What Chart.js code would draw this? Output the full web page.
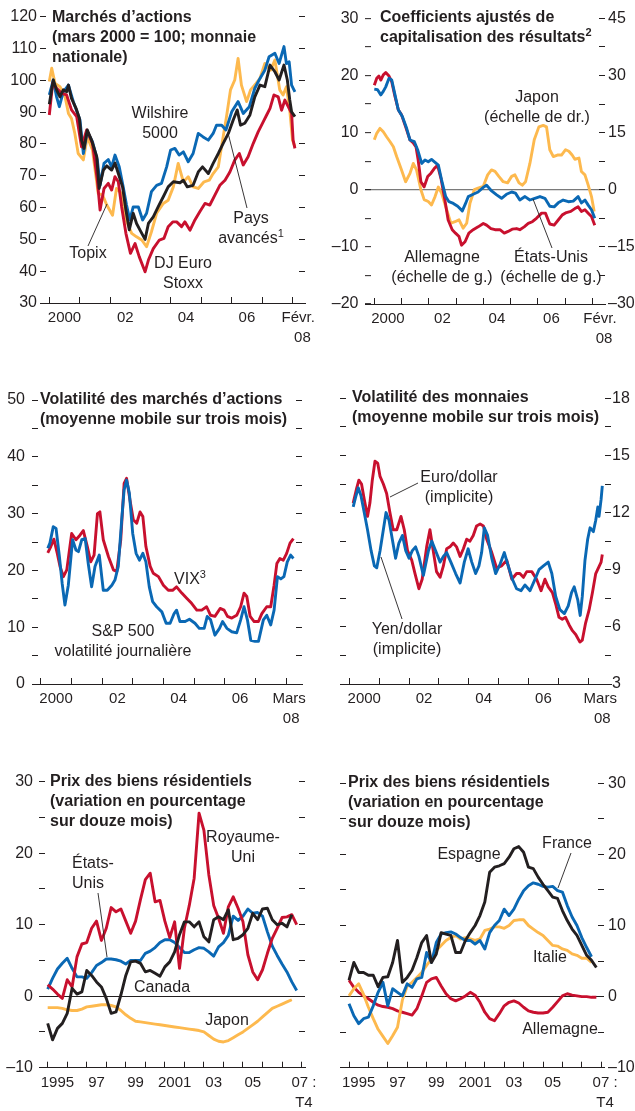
<!DOCTYPE html>
<html>
<head>
<meta charset="utf-8">
<script src="https://cdn.jsdelivr.net/npm/chart.js@4.4.1/dist/chart.umd.min.js"></script>
<style>
body{margin:0;background:#fff;width:635px;height:1111px;position:relative;overflow:hidden;font-family:"Liberation Sans",Arial,sans-serif;color:#231f20}
canvas{position:absolute}
.t{position:absolute;font-weight:bold;font-size:16px;line-height:20px;white-space:nowrap;z-index:2}
.l{position:absolute;font-size:16px;line-height:20px;white-space:nowrap;text-align:center;transform:translate(-50%,-50%);z-index:2}
.l.g{text-align:left;transform:translate(0,-50%)}
sup{font-size:11px;line-height:0;vertical-align:6px}
svg{position:absolute;left:0;top:0;z-index:1}
</style>
</head>
<body>
<canvas id="c1" width="317" height="345" style="left:0;top:0"></canvas>
<canvas id="c2" width="318" height="345" style="left:317px;top:0"></canvas>
<canvas id="c3" width="317" height="350" style="left:0;top:375px"></canvas>
<canvas id="c4" width="318" height="350" style="left:317px;top:375px"></canvas>
<canvas id="c5" width="317" height="346" style="left:0;top:765px"></canvas>
<canvas id="c6" width="318" height="346" style="left:317px;top:765px"></canvas>

<div class="t" style="left:52px;top:7px">Marchés d’actions<br>(mars 2000 = 100; monnaie<br>nationale)</div>
<div class="t" style="left:380px;top:6.5px">Coefficients ajustés de<br>capitalisation des résultats<sup>2</sup></div>
<div class="t" style="left:40px;top:389px">Volatilité des marchés d’actions<br>(moyenne mobile sur trois mois)</div>
<div class="t" style="left:352px;top:386.5px">Volatilité des monnaies<br>(moyenne mobile sur trois mois)</div>
<div class="t" style="left:50px;top:771px">Prix des biens résidentiels<br>(variation en pourcentage<br>sur douze mois)</div>
<div class="t" style="left:348px;top:771.5px">Prix des biens résidentiels<br>(variation en pourcentage<br>sur douze mois)</div>

<div class="l" style="left:160px;top:123px">Wilshire<br>5000</div>
<div class="l" style="left:88px;top:253px">Topix</div>
<div class="l" style="left:183px;top:273px">DJ Euro<br>Stoxx</div>
<div class="l" style="left:251px;top:228px">Pays<br>avancés<sup>1</sup></div>
<div class="l" style="left:537px;top:107px">Japon<br>(échelle de dr.)</div>
<div class="l" style="left:442px;top:267px">Allemagne<br>(échelle de g.)</div>
<div class="l" style="left:551px;top:267px">États-Unis<br>(échelle de g.)</div>
<div class="l" style="left:190px;top:579px">VIX<sup>3</sup></div>
<div class="l" style="left:123px;top:641px">S&amp;P 500<br>volatilité journalière</div>
<div class="l" style="left:459px;top:487px">Euro/dollar<br>(implicite)</div>
<div class="l" style="left:407px;top:639px">Yen/dollar<br>(implicite)</div>
<div class="l" style="left:243px;top:847px">Royaume-<br>Uni</div>
<div class="l g" style="left:72px;top:873px">États-<br>Unis</div>
<div class="l" style="left:162px;top:987px">Canada</div>
<div class="l" style="left:227px;top:1020px">Japon</div>
<div class="l" style="left:469px;top:854px">Espagne</div>
<div class="l" style="left:567px;top:843px">France</div>
<div class="l" style="left:550px;top:957px">Italie</div>
<div class="l" style="left:560px;top:1029px">Allemagne</div>

<svg width="635" height="1111">
<g stroke="#231f20" stroke-width="0.9">
<line x1="88" y1="246" x2="107" y2="204"/>
<line x1="247" y1="208" x2="228" y2="133"/>
<line x1="552" y1="248" x2="533" y2="199"/>
<line x1="418" y1="483" x2="390" y2="497"/>
<line x1="402" y1="619" x2="381" y2="557"/>
<line x1="98" y1="893" x2="107" y2="957"/>
<line x1="571" y1="853" x2="558" y2="888"/>
</g>
</svg>

<script>
// ---- Marchés d'actions (mars 2000 = 100), [année, indice]
const paysAvances = [[2000.00,92.5],[2000.13,100.1],[2000.24,97],[2000.35,94.8],[2000.46,97],[2000.57,96.4],[2000.63,98.5],[2000.73,94.3],[2000.88,91.2],[2000.99,88],[2001.06,81.2],[2001.14,78.6],[2001.25,84.4],[2001.39,81.2],[2001.56,76],[2001.64,66],[2001.78,71.8],[2001.89,73.1],[2002.05,71.8],[2002.16,74],[2002.27,70.7],[2002.41,66.5],[2002.52,59.2],[2002.63,53],[2002.76,58.2],[2002.87,55],[2002.98,53],[2003.15,50],[2003.26,55],[2003.42,57.1],[2003.58,60.2],[2003.75,63.4],[2003.91,66.5],[2004.08,68.1],[2004.30,67.8],[2004.41,68.6],[2004.54,66.5],[2004.73,67],[2004.90,71.2],[2005.04,72.8],[2005.23,70.7],[2005.39,73.9],[2005.56,77],[2005.72,80.2],[2005.89,83.3],[2006.05,87.5],[2006.18,90.7],[2006.29,85.9],[2006.43,86.5],[2006.60,89.1],[2006.76,94.8],[2006.93,98.5],[2007.09,98],[2007.26,104.8],[2007.42,102.7],[2007.56,100.1],[2007.72,104.8],[2007.83,100.1],[2007.91,93.8],[2007.97,90.1],[2008.08,88.6]];
const wilshire = [[2000.00,95.4],[2000.13,100.1],[2000.24,94.8],[2000.33,91.7],[2000.46,96.4],[2000.63,98.5],[2000.79,93.3],[2001.01,87.5],[2001.12,77],[2001.25,83.9],[2001.42,80.7],[2001.58,75],[2001.67,67],[2001.80,73.9],[2001.94,75.1],[2002.05,72.8],[2002.16,76.5],[2002.30,72.8],[2002.43,66.5],[2002.54,60.8],[2002.65,56.1],[2002.76,60.2],[2002.93,60.2],[2003.07,56.1],[2003.20,58.2],[2003.36,65],[2003.53,67],[2003.69,67.6],[2003.86,72.8],[2003.99,78.1],[2004.13,78.6],[2004.27,76.5],[2004.41,77.5],[2004.57,74.4],[2004.73,77],[2004.90,83.3],[2005.06,82.2],[2005.23,81.2],[2005.39,83.3],[2005.50,85.9],[2005.67,85.9],[2005.81,84.4],[2006.00,90.1],[2006.21,93.3],[2006.38,89.6],[2006.58,91.7],[2006.76,97.5],[2006.93,100.6],[2007.09,103.2],[2007.23,107.4],[2007.42,108.5],[2007.56,105.3],[2007.72,110.6],[2007.80,105.3],[2007.89,105.8],[2007.97,98.5],[2008.08,96.4]];
const topix = [[2000.00,99.6],[2000.08,103.8],[2000.19,99],[2000.35,98],[2000.52,94.8],[2000.63,89.6],[2000.73,88],[2000.84,83.3],[2000.95,77],[2001.12,75],[2001.25,82.3],[2001.42,78.1],[2001.61,64.4],[2001.75,64],[2001.89,60.8],[2002.08,57.6],[2002.21,66],[2002.38,64.4],[2002.52,56.1],[2002.71,51.9],[2002.87,50.8],[2003.04,49.8],[2003.20,47.7],[2003.36,52.4],[2003.53,58.2],[2003.75,61.3],[2003.91,62.3],[2004.08,66.5],[2004.24,73.9],[2004.41,68.1],[2004.57,69.7],[2004.73,66.5],[2004.90,66],[2005.09,68.1],[2005.26,68.6],[2005.39,70.7],[2005.56,72.8],[2005.70,81.2],[2005.83,88.6],[2005.96,97],[2006.10,100.1],[2006.21,106.9],[2006.32,98.5],[2006.49,93.3],[2006.62,97],[2006.80,99],[2006.93,100.6],[2007.09,105.3],[2007.28,103.2],[2007.42,106.4],[2007.58,97],[2007.69,95.4],[2007.80,98],[2007.91,90.6],[2008.00,81.2],[2008.08,79.1]];
const euroStoxx = [[2000.00,89.1],[2000.11,99],[2000.24,97.5],[2000.41,95.9],[2000.57,95.4],[2000.73,90.7],[2000.90,88.6],[2001.06,79.1],[2001.23,84.4],[2001.42,80.2],[2001.58,68.6],[2001.67,59.2],[2001.80,66],[2001.94,67.6],[2002.05,65.5],[2002.16,69.7],[2002.27,68.1],[2002.38,60.2],[2002.52,51.9],[2002.67,45.6],[2002.82,48.7],[2002.96,44.5],[2003.15,39.8],[2003.26,43.5],[2003.42,47.1],[2003.62,49.8],[2003.77,50.3],[2003.91,54],[2004.06,55.5],[2004.19,55.5],[2004.35,54],[2004.46,55.5],[2004.63,52.9],[2004.79,56.1],[2004.95,58.7],[2005.12,61.3],[2005.28,60.8],[2005.45,64],[2005.61,67],[2005.78,68.6],[2005.94,71.2],[2006.10,74.9],[2006.25,77],[2006.38,73.4],[2006.54,76],[2006.71,80.2],[2006.87,83.8],[2007.04,87],[2007.15,89.1],[2007.26,91.2],[2007.39,95.4],[2007.53,94.8],[2007.64,90.6],[2007.75,93.8],[2007.86,91.7],[2007.97,89.6],[2008.02,81.2],[2008.08,78.6]];

// ---- Coefficients ajustés de capitalisation des résultats
const perAllemagne = [[2000.00,18.3],[2000.09,19.5],[2000.17,19.9],[2000.24,19.2],[2000.33,20.1],[2000.42,20.5],[2000.54,19.9],[2000.64,18.9],[2000.76,16.3],[2000.88,14],[2001.00,13.1],[2001.15,11],[2001.31,8.7],[2001.43,8.2],[2001.53,7.5],[2001.61,5.2],[2001.71,1.4],[2001.83,0.5],[2001.96,2.3],[2002.08,2.9],[2002.20,3.7],[2002.32,4.3],[2002.45,1.9],[2002.59,-1.8],[2002.71,-5.3],[2002.86,-7],[2002.98,-7.6],[2003.11,-8.2],[2003.20,-9.7],[2003.33,-9.1],[2003.47,-7.6],[2003.63,-7],[2003.81,-6.5],[2004.00,-5.9],[2004.12,-6.2],[2004.28,-6.8],[2004.43,-7],[2004.61,-7],[2004.77,-7.6],[2004.91,-7.3],[2005.06,-6.9],[2005.22,-6.8],[2005.34,-7],[2005.50,-6.5],[2005.65,-5.9],[2005.80,-5.6],[2005.95,-5],[2006.14,-4.1],[2006.28,-4.1],[2006.44,-6],[2006.60,-6.2],[2006.75,-5.3],[2006.90,-4.4],[2007.05,-4],[2007.21,-3.8],[2007.36,-3.3],[2007.48,-3],[2007.60,-3.8],[2007.73,-3.5],[2007.85,-4.1],[2007.97,-4.7],[2008.09,-6.2]];
const perEtatsUnis = [[2000.00,17.6],[2000.12,17.5],[2000.24,16.6],[2000.33,17.2],[2000.42,18],[2000.54,19.5],[2000.64,19.2],[2000.76,16.6],[2000.88,14],[2001.03,12.8],[2001.19,10.7],[2001.31,8.7],[2001.47,8.4],[2001.59,7],[2001.74,4.6],[2001.86,5.2],[2001.98,4.9],[2002.10,5.3],[2002.23,4.8],[2002.35,4.3],[2002.47,1.7],[2002.62,-1.2],[2002.74,-2.1],[2002.90,-2.4],[2003.06,-2.9],[2003.23,-3.7],[2003.35,-2.4],[2003.45,-1.2],[2003.63,-0.8],[2003.81,-0.4],[2004.00,0.4],[2004.12,0.8],[2004.28,-0.1],[2004.49,-0.9],[2004.67,-1.5],[2004.85,-0.8],[2005.04,-0.4],[2005.18,-0.6],[2005.34,-1.8],[2005.53,-1.2],[2005.71,-1.8],[2005.89,-1.5],[2006.08,-1.2],[2006.26,-1.5],[2006.44,-2.9],[2006.60,-3],[2006.75,-2.3],[2006.93,-1.8],[2007.12,-2.1],[2007.30,-2],[2007.48,-1.2],[2007.60,-2.3],[2007.73,-1.8],[2007.85,-2.7],[2007.97,-3.5],[2008.09,-5]];
const perJapon = [[2000.00,13.1],[2000.09,14.8],[2000.21,16.1],[2000.33,15.2],[2000.45,13.9],[2000.58,12.6],[2000.70,11.3],[2000.82,8.7],[2000.98,5.6],[2001.15,2.1],[2001.31,4.3],[2001.43,6.9],[2001.55,5.2],[2001.71,0],[2001.83,-2.6],[2001.98,-3.1],[2002.10,-4],[2002.23,-1.8],[2002.35,0.7],[2002.47,-0.9],[2002.62,-4.4],[2002.81,-8.8],[2002.96,-8.4],[2003.11,-7.9],[2003.26,-10.1],[2003.39,-8.8],[2003.51,-3.6],[2003.67,0],[2003.81,0.4],[2004.00,0.9],[2004.16,3.9],[2004.30,5.2],[2004.43,4.8],[2004.57,3.5],[2004.73,2.1],[2004.89,1.8],[2005.04,3.5],[2005.16,3.9],[2005.31,1.8],[2005.43,1.2],[2005.55,2.1],[2005.71,6.9],[2005.87,13.1],[2006.04,16.5],[2006.20,16.9],[2006.32,16.5],[2006.44,10.5],[2006.57,8.7],[2006.72,9.1],[2006.87,9.1],[2007.02,10.5],[2007.14,10.1],[2007.26,9.1],[2007.36,8],[2007.51,8.3],[2007.60,4.8],[2007.73,3.9],[2007.85,1.2],[2007.97,-1.8],[2008.07,-5.7]];

// ---- Volatilité des marchés d'actions
const vix = [[2000.23,23.1],[2000.33,24.2],[2000.43,25.5],[2000.54,23],[2000.63,20.7],[2000.74,18.9],[2000.85,20.1],[2001.01,26.5],[2001.15,25.4],[2001.28,26.2],[2001.39,27],[2001.52,24.2],[2001.63,21.5],[2001.74,22.7],[2001.85,30],[2001.93,30.3],[2002.04,25.4],[2002.21,22.4],[2002.37,20.1],[2002.48,19.8],[2002.61,25.4],[2002.72,35.3],[2002.80,36.2],[2002.91,32.4],[2003.02,28.9],[2003.13,28.3],[2003.24,30.3],[2003.33,29.5],[2003.43,24.2],[2003.57,20.7],[2003.67,19.5],[2003.84,18.9],[2004.00,17.4],[2004.16,16.5],[2004.30,16.5],[2004.43,17.1],[2004.60,16],[2004.76,15.1],[2004.92,14.2],[2005.09,13],[2005.25,13],[2005.41,13.6],[2005.54,12.1],[2005.68,11.9],[2005.85,13.3],[2005.98,13],[2006.09,11.9],[2006.23,11.6],[2006.39,12.1],[2006.52,13.6],[2006.63,16],[2006.72,15.4],[2006.83,11.9],[2006.96,11],[2007.10,11],[2007.21,12.4],[2007.37,13.6],[2007.50,13.6],[2007.61,17.4],[2007.70,21.2],[2007.80,22.1],[2007.91,21.8],[2008.02,23],[2008.13,24.8],[2008.24,25.6]];
const volSP500 = [[2000.23,23.9],[2000.30,24.8],[2000.41,27.7],[2000.50,27.4],[2000.61,22.4],[2000.70,17.7],[2000.79,13.9],[2000.90,17.4],[2001.04,25.4],[2001.15,23.6],[2001.23,23.3],[2001.34,25.4],[2001.45,25.6],[2001.55,21.2],[2001.66,17.1],[2001.77,20.7],[2001.91,22.7],[2002.04,16.5],[2002.17,16.5],[2002.32,17.4],[2002.42,18.3],[2002.53,20.7],[2002.64,28.9],[2002.72,34.2],[2002.80,35.9],[2002.89,33.6],[2003.00,26.5],[2003.11,23],[2003.22,21.8],[2003.33,23],[2003.43,21.5],[2003.54,17.1],[2003.65,14.5],[2003.78,13.6],[2003.95,12.7],[2004.09,10.7],[2004.22,10.7],[2004.35,12.4],[2004.43,13],[2004.54,11],[2004.71,11],[2004.85,11.4],[2005.03,10.7],[2005.17,9.8],[2005.33,9.8],[2005.43,11.9],[2005.54,11.3],[2005.68,8.6],[2005.83,9.8],[2005.93,11],[2006.07,9.8],[2006.23,9.2],[2006.39,9],[2006.52,11.3],[2006.63,13.6],[2006.74,11.3],[2006.85,7.7],[2006.99,7.5],[2007.10,7.5],[2007.26,11.3],[2007.37,12.1],[2007.50,10.4],[2007.61,13],[2007.72,18.9],[2007.83,18.5],[2007.93,18.9],[2008.04,21.5],[2008.15,22.7],[2008.24,22.1]];

// ---- Volatilité des monnaies (implicite)
const volEuroDollar = [[2000.13,12.5],[2000.25,13.3],[2000.32,13.7],[2000.41,13.5],[2000.50,12.7],[2000.61,11.8],[2000.69,12.5],[2000.77,13.7],[2000.86,14.7],[2000.95,14.6],[2001.03,13.9],[2001.14,13.5],[2001.25,13],[2001.36,12],[2001.47,11.1],[2001.59,11.1],[2001.73,11.8],[2001.84,11.1],[2001.95,10],[2002.09,9.5],[2002.20,8.8],[2002.33,8],[2002.44,8.5],[2002.59,10.2],[2002.70,11.1],[2002.81,10],[2002.92,8.9],[2003.04,8.6],[2003.15,9.2],[2003.26,10.1],[2003.37,10.2],[2003.48,10.4],[2003.59,10.2],[2003.71,9.7],[2003.82,10.1],[2003.93,10.6],[2004.04,10.5],[2004.15,10.8],[2004.26,11.3],[2004.38,11.4],[2004.49,11.3],[2004.60,10.6],[2004.77,9.9],[2004.93,9.1],[2005.10,9.2],[2005.27,9.5],[2005.44,8.5],[2005.60,8.8],[2005.71,8.8],[2005.83,8.6],[2005.94,8.9],[2006.11,8.9],[2006.27,8.5],[2006.42,7.9],[2006.55,8.5],[2006.66,8.1],[2006.80,7.8],[2006.91,7.2],[2007.02,6.5],[2007.13,6.4],[2007.24,6.5],[2007.36,6.1],[2007.47,5.8],[2007.58,5.6],[2007.72,5.2],[2007.80,5.3],[2007.91,6.2],[2008.03,6.9],[2008.14,7.8],[2008.25,8.8],[2008.34,9.1],[2008.43,9.4],[2008.47,9.8]];
const volYenDollar = [[2000.13,12.3],[2000.21,12.8],[2000.30,13.3],[2000.39,12.9],[2000.50,12],[2000.61,11.1],[2000.73,10],[2000.84,9.2],[2000.92,9.1],[2001.03,10],[2001.14,11.1],[2001.23,12],[2001.33,11.6],[2001.44,10.6],[2001.55,9.6],[2001.66,10.4],[2001.78,10.8],[2001.89,10],[2002.00,9.6],[2002.11,10],[2002.22,10.2],[2002.33,9.7],[2002.48,8.7],[2002.65,10],[2002.76,10.5],[2002.89,10],[2003.04,9.4],[2003.15,9.7],[2003.26,9.9],[2003.40,9.4],[2003.56,8.8],[2003.71,8.3],[2003.85,9.4],[2003.98,10.1],[2004.10,9.4],[2004.23,8.8],[2004.34,9.2],[2004.43,9.9],[2004.52,11.2],[2004.63,10.8],[2004.77,9.6],[2004.90,8.8],[2005.05,9.3],[2005.19,9.9],[2005.32,9.2],[2005.46,8.5],[2005.60,8],[2005.75,7.9],[2005.88,8.2],[2006.05,7.9],[2006.19,8.4],[2006.35,9],[2006.50,9.2],[2006.66,9.4],[2006.78,8.8],[2006.91,7.6],[2007.05,6.9],[2007.20,6.7],[2007.33,7.1],[2007.44,7.8],[2007.53,8.1],[2007.65,7.4],[2007.73,6.6],[2007.80,7.6],[2007.89,9.5],[2007.98,10.6],[2008.06,11.2],[2008.17,11],[2008.25,11.6],[2008.32,12.3],[2008.36,11.8],[2008.43,12.7],[2008.47,13.4]];

// ---- Prix des biens résidentiels, trimestriel 1995 T1 - 2007 T4
const trimestres = [];
for (let a = 1995; a < 2008; a++) for (let t = 0; t < 4; t++) trimestres.push(a + t / 4);
const logRoyaumeUni = [1.6,1.0,0.3,-0.3,2.3,1.3,5.5,7.3,7.5,9.5,10.5,7.8,9.5,12.4,11.8,12.2,10.5,8.8,10.5,13.5,16.3,17.2,13.2,13.4,10.5,8.2,10.4,3.9,9.5,12.7,16.5,25.6,23.2,17.0,12.7,10.9,8.8,12.5,13.9,12.3,10.4,5.8,3.4,2.3,3.7,6.0,8.1,9.5,11.0,11.1,11.4,10.0];
const logEtatsUnis = [1.0,2.5,3.8,4.6,5.3,3.9,2.7,2.7,2.5,3.3,4.3,4.7,5.2,5.2,5.1,4.9,4.5,5.0,5.0,5.0,6.0,6.3,6.8,7.5,7.9,7.9,7.5,6.8,6.1,6.1,6.5,6.8,6.7,6.2,5.6,6.9,7.5,8.5,11.2,10.6,11.2,12.2,11.6,11.7,11.2,9.0,7.0,5.7,4.5,3.4,2.0,0.8];
const logCanada = [-3.8,-6.1,-4.5,-3.8,-2.4,1.1,0.3,0.6,3.6,2.9,2.0,1.3,-0.3,-2.4,-2.2,0.2,2.9,4.8,4.9,4.6,3.4,3.6,3.2,2.8,4.1,4.8,6.2,8.6,10.4,10.4,9.7,10.4,8.3,7.6,10.7,11.1,10.7,12.1,7.9,8.1,8.6,9.5,11.6,10.7,12.2,12.3,10.7,10.0,10.2,9.7,11.4,null];
const logJapon = [-1.6,-1.6,-1.6,-1.7,-1.9,-2.0,-2.0,-1.8,-1.5,-1.4,-1.3,-1.2,-1.2,-1.3,-1.5,-2.0,-2.6,-3.1,-3.5,-3.6,-3.7,-3.8,-3.9,-4.0,-4.1,-4.2,-4.3,-4.4,-4.5,-4.6,-4.7,-4.8,-5.0,-5.5,-6.0,-6.3,-6.4,-6.2,-5.8,-5.4,-5.0,-4.5,-4.0,-3.5,-2.9,-2.3,-1.7,-1.4,-1.1,-0.8,-0.5,null];
const logEspagne = [2.3,4.8,3.4,3.4,3.0,3.0,1.4,2.7,2.8,4.8,7.9,2.0,2.7,3.7,5.5,7.6,8.6,4.8,6.0,9.0,8.8,8.6,6.2,6.2,7.9,9.0,10.0,11.4,13.3,17.5,18.2,18.4,18.7,19.6,20.8,21.1,20.3,18.2,18.0,16.8,15.8,14.9,14.0,13.8,12.1,10.7,9.5,8.6,7.2,5.8,5.1,4.1];
const logFrance = [-1.0,-2.7,-3.8,-3.1,-2.9,-1.3,0.6,2.0,-1.3,1.1,0.6,0.1,1.8,1.3,2.5,2.7,6.2,4.8,7.6,8.8,9.0,9.1,8.8,8.3,7.9,7.9,7.4,7.9,6.7,9.0,10.0,10.7,12.3,11.4,12.3,13.7,14.9,15.6,16.0,15.8,15.5,15.4,15.5,14.9,14.7,12.8,11.2,10.0,8.3,6.9,5.6,null];
const logItalie = [0.1,1.1,1.8,0.3,-1.5,-3.1,-4.6,-5.6,-6.6,-5.5,-4.3,-0.5,1.5,2.0,2.7,3.4,4.4,5.3,6.5,7.2,7.9,8.3,8.6,8.1,8.3,8.1,7.9,8.1,9.3,9.5,9.8,9.8,9.6,10.0,10.7,10.8,10.8,10.0,9.5,9.0,8.6,7.9,7.2,7.1,6.7,6.5,6.0,5.8,5.4,5.4,4.8,null];
const logAllemagne = [2.3,1.3,0.6,0.1,-0.3,-0.8,-1.2,-1.4,-1.5,-1.7,-2.0,-2.2,-2.4,-2.6,-1.7,0.1,2.0,2.5,2.7,1.5,0.4,-0.3,-0.6,-0.3,0.1,0.6,0.2,-0.8,-2.2,-3.1,-3.4,-2.4,-1.3,-0.8,-0.6,-0.9,-1.5,-2.0,-2.2,-2.3,-2.3,-2.2,-1.5,-0.7,0.1,0.4,0.2,0.1,0.0,0.0,-0.1,-0.1];

// ---- étiquettes de l'axe des temps [position, texte]
const ansActions = [[2000.5,'2000'],[2002.5,'02'],[2004.5,'04'],[2006.5,'06']];
const ansLogement = [[1995.5,'1995'],[1997.5,'97'],[1999.5,'99'],[2001.5,'2001'],[2003.5,'03'],[2005.5,'05']];

const INK = '#231f20', BLUE = '#0a68b4', RED = '#c8102e', YELLOW = '#fdb94e';
const FONT = '"Liberation Sans", Arial, sans-serif';
const CLEAR = 'rgba(0,0,0,0)';

const quarterly = vals => vals.map((v, i) => [trimestres[i], v]);
const isStep = (v, s) => Math.abs(v / s - Math.round(v / s)) < 1e-6;
const fmt = v => { v = Math.round(v * 100) / 100; return v < 0 ? '\u2013' + Math.abs(v) : String(v); };

function yAxis(o) {
  return {
    type: 'linear', position: o.pos, min: o.min, max: o.max,
    afterBuildTicks: s => {
      const t = [];
      for (let i = 0; o.min + i * o.step <= o.max + 1e-9; i++) t.push({ value: o.min + i * o.step });
      s.ticks = t;
    },
    afterFit: s => { s.width = o.width; s.paddingTop = 0; s.paddingBottom = 0; },
    border: { display: false },
    grid: {
      drawOnChartArea: !!o.zero,
      color: c => (o.zero && c.tick && Math.abs(c.tick.value) < 1e-9) ? o.zero : CLEAR,
      lineWidth: o.zeroWidth || 1, tickLength: -6, tickColor: INK, tickWidth: 1
    },
    ticks: { padding: o.pad || 0, color: INK, font: { family: FONT, size: 16 },
      callback: v => (o.label && isStep(v, o.label)) ? fmt(v) : '' }
  };
}

function xAxis(o) {
  return {
    type: 'linear', position: 'bottom', min: o.min, max: o.max,
    afterBuildTicks: s => {
      const t = [];
      for (let a = o.from; a <= o.to; a++) t.push({ value: a });
      o.labels.forEach(l => t.push({ value: l[0] }));
      s.ticks = t.sort((p, q) => p.value - q.value);
    },
    afterFit: s => { s.height = o.height; s.paddingLeft = 0; s.paddingRight = 0; },
    border: { display: true, color: INK, width: 1 },
    grid: { drawOnChartArea: false, tickLength: -6, tickWidth: 1,
      tickColor: c => (c.tick && Number.isInteger(c.tick.value)) ? INK : CLEAR },
    ticks: { autoSkip: false, maxRotation: 0, minRotation: 0, padding: 11, color: INK,
      font: { family: FONT, size: 15, lineHeight: 1.33 },
      callback: v => { const l = o.labels.find(l => Math.abs(l[0] - v) < 1e-6); return l ? l[1] : ''; } }
  };
}

function panel(id, o) {
  new Chart(document.getElementById(id), {
    type: 'line',
    data: {
      datasets: o.series.map(s => ({
        data: s.data, yAxisID: s.axis || 'y', borderColor: s.color, borderWidth: 2.9,
        pointRadius: 0, fill: false, tension: 0, borderJoinStyle: 'round'
      }))
    },
    options: {
      responsive: false, animation: false, events: [],
      layout: { padding: { top: o.top, left: 0, right: 0, bottom: 0 } },
      plugins: { legend: { display: false }, tooltip: { enabled: false } },
      scales: { x: o.x, y: o.y, y2: o.y2 }
    }
  });
}

// first dataset is drawn on top
panel('c1', {
  top: 16.7,
  x: xAxis({ min: 1999.694, max: 2008.411, from: 2000, to: 2008, height: 42,
    labels: ansActions.concat([[2008.19, ['Févr.', '  08']]]) }),
  y: yAxis({ pos: 'left', min: 30, max: 120, step: 5, label: 10, width: 40, pad: 9 }),
  y2: yAxis({ pos: 'right', min: 30, max: 120, step: 5, label: 0, width: 12 }),
  series: [
    { data: paysAvances, color: INK },
    { data: euroStoxx, color: RED },
    { data: wilshire, color: BLUE },
    { data: topix, color: YELLOW }
  ]
});

panel('c2', {
  top: 18.3,
  x: xAxis({ min: 1999.659, max: 2008.466, from: 2000, to: 2008, height: 41,
    labels: ansActions.concat([[2008.28, ['Févr.', '  08']]]) }),
  y: yAxis({ pos: 'left', min: -20, max: 30, step: 5, label: 10, width: 48, pad: 12.5, zero: '#7a7a7a', zeroWidth: 1.3 }),
  y2: yAxis({ pos: 'right', min: -30, max: 45, step: 7.5, label: 15, width: 30, pad: 9 }),
  series: [
    { data: perEtatsUnis, color: BLUE },
    { data: perAllemagne, color: RED },
    { data: perJapon, color: YELLOW, axis: 'y2' }
  ]
});

panel('c3', {
  top: 25,
  x: xAxis({ min: 1999.716, max: 2008.52, from: 2000, to: 2008, height: 41,
    labels: ansActions.concat([[2008.1, ['Mars', ' 08']]]) }),
  y: yAxis({ pos: 'left', min: 0, max: 50, step: 5, label: 10, width: 32, pad: 13 }),
  y2: yAxis({ pos: 'right', min: 0, max: 50, step: 5, label: 0, width: 15 }),
  series: [
    { data: volSP500, color: BLUE },
    { data: vix, color: RED }
  ]
});

panel('c4', {
  top: 23.3,
  x: xAxis({ min: 1999.689, max: 2008.761, from: 2000, to: 2008, height: 41,
    labels: ansActions.concat([[2008.4, ['Mars', ' 08']]]) }),
  y: yAxis({ pos: 'left', min: 3, max: 18, step: 1.5, label: 0, width: 23 }),
  y2: yAxis({ pos: 'right', min: 3, max: 18, step: 1.5, label: 3, width: 24, pad: 7 }),
  series: [
    { data: volYenDollar, color: BLUE, axis: 'y2' },
    { data: volEuroDollar, color: RED, axis: 'y2' }
  ]
});

panel('c5', {
  top: 16.7,
  x: xAxis({ min: 1994.555, max: 2008.175, from: 1995, to: 2008, height: 43.3,
    labels: ansLogement.concat([[2008.12, ['07 :', 'T4']]]) }),
  y: yAxis({ pos: 'left', min: -10, max: 30, step: 5, label: 10, width: 39, pad: 12, zero: INK }),
  y2: yAxis({ pos: 'right', min: -10, max: 30, step: 5, label: 0, width: 12 }),
  series: [
    { data: quarterly(logCanada), color: INK },
    { data: quarterly(logRoyaumeUni), color: RED },
    { data: quarterly(logEtatsUnis), color: BLUE },
    { data: quarterly(logJapon), color: YELLOW }
  ]
});

panel('c6', {
  top: 18.3,
  x: xAxis({ min: 1994.536, max: 2008.144, from: 1995, to: 2008, height: 43.3,
    labels: ansLogement.concat([[2008.2, ['07 :', 'T4']]]) }),
  y: yAxis({ pos: 'left', min: -10, max: 30, step: 5, label: 0, width: 23 }),
  y2: yAxis({ pos: 'right', min: -10, max: 30, step: 5, label: 10, width: 31, pad: 10, zero: INK }),
  series: [
    { data: quarterly(logEspagne), color: INK, axis: 'y2' },
    { data: quarterly(logFrance), color: BLUE, axis: 'y2' },
    { data: quarterly(logItalie), color: YELLOW, axis: 'y2' },
    { data: quarterly(logAllemagne), color: RED, axis: 'y2' }
  ]
});
</script>
</body>
</html>
